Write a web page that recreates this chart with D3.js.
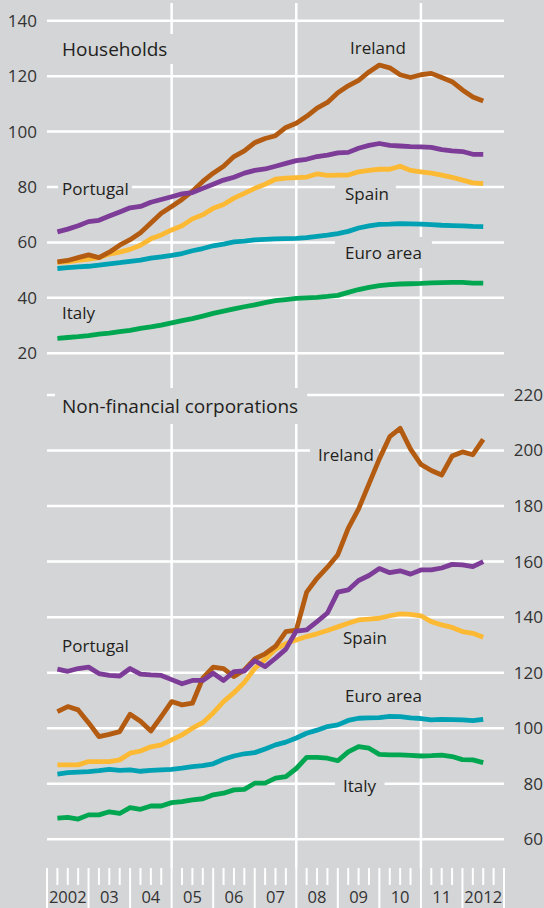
<!DOCTYPE html>
<html>
<head>
<meta charset="utf-8">
<script src="https://cdn.jsdelivr.net/npm/d3@7"></script>
<style>
  html, body { margin: 0; padding: 0; background: #d4d5d7; }
  svg { display: block; }
  text { font-family: "Open Sans", "Noto Sans", sans-serif; fill: #231f20; }
</style>
</head>
<body>
<svg id="chart" width="544" height="908"></svg>
<script>
// ---------- DATA ----------
// quarterly observations 2002Q1 .. 2012Q2 (end of quarter)
const startYear = 2002;
const nQuarters = 42;
const yearLabels = ["2002","03","04","05","06","07","08","09","10","11","2012"];
const householdTicks = [20, 40, 60, 80, 100, 120, 140];
const corporateTicks = [60, 80, 100, 120, 140, 160, 180, 200, 220];
const seriesNames = ["Ireland", "Portugal", "Spain", "Euro area", "Italy"];

// Households (% of GDP)
const hhIreland = [53,53.5,54.5,55.5,54.5,56.5,59,61,63.5,67,70.5,73,75.5,78.5,82,85,87.5,91,93,96,97.5,98.5,101.5,103,105.5,108.5,110.5,114,116.5,118.5,121.5,124,123,120.5,119.5,120.5,121,119.5,118,115,112.5,111];
const hhPortugal = [63.8,64.8,66,67.5,68,69.5,71,72.5,73,74.5,75.5,76.5,77.5,78,79.5,81,82.5,83.5,85,86,86.5,87.5,88.5,89.5,90,91,91.5,92.3,92.5,94,95,95.7,95,94.8,94.6,94.5,94.3,93.5,93,92.8,91.8,91.8];
const hhSpain = [52.8,53,53.5,54,54.5,55.8,56.5,57.5,59,61.3,62.7,64.5,66,68.5,70,72.3,73.7,76,77.7,79.5,81,82.8,83.2,83.4,83.6,84.7,84.2,84.3,84.3,85.5,86,86.4,86.4,87.5,86,85.5,85,84.3,83.5,82.5,81.5,81.2];
const hhEuro = [50.6,50.9,51.2,51.4,51.8,52.3,52.7,53.2,53.6,54.3,54.8,55.3,56,57,57.8,58.8,59.4,60.2,60.5,60.9,61.1,61.3,61.4,61.5,61.7,62.2,62.6,63.2,64,65.2,66,66.5,66.6,66.8,66.7,66.6,66.4,66.2,66.1,66,65.8,65.7];
const hhItaly = [25.4,25.7,26,26.4,26.9,27.3,27.8,28.3,29,29.5,30.2,31,31.8,32.5,33.4,34.4,35.2,36,36.8,37.5,38.3,39,39.4,39.8,40,40.2,40.5,40.9,42,43,43.8,44.4,44.8,45,45.1,45.2,45.4,45.5,45.6,45.6,45.3,45.3];

// Non-financial corporations (% of GDP)
const nfcIreland = [106,107.8,106.6,102,97,97.8,98.8,105,102.5,99,104.2,109.6,108.4,109,118,122,121.5,118.6,121,125,126.8,129.5,134.8,135.3,149,154,158,162.5,172,179,188,197,205,208,200.5,195,192.8,191.2,198,199.5,198.5,204];
const nfcPortugal = [121.3,120.5,121.5,122,119.7,119,118.8,121.5,119.5,119.2,119,117.5,116,117.2,117.2,119.8,117.2,120.4,120.6,124.3,122.2,125.2,128.5,135,135.4,138.4,141.5,149,149.8,153.2,155,157.5,156,156.7,155.5,157,157,157.7,159,158.8,158.2,160];
const nfcSpain = [86.8,86.8,86.8,88,88,88,88.6,91,91.8,93.3,94,95.8,97.6,100,102,105.5,109.6,112.8,116.5,121.5,124.8,128.5,130.5,131.8,133,134,135.2,136.5,137.8,139,139.3,139.6,140.5,141.2,141,140.5,138.4,137.2,136.3,134.8,134.2,132.8];
const nfcEuro = [83.5,84,84.2,84.4,84.7,85.2,84.8,85,84.5,84.8,85,85.2,85.6,86.2,86.5,87.2,88.8,90,90.8,91.2,92.5,94,95,96.5,98.2,99.3,100.6,101.2,102.8,103.6,103.7,103.8,104.3,104.2,103.7,103.5,103,103.2,103.1,103,102.7,103.2];
const nfcItaly = [67.6,67.9,67.3,68.8,68.8,69.9,69.3,71.4,70.8,72,72,73.2,73.6,74.2,74.6,76,76.6,77.8,78,80.2,80.2,82,82.6,85.5,89.5,89.5,89.2,88.3,91.5,93.4,92.8,90.6,90.4,90.4,90.2,90,90.1,90.3,89.8,88.7,88.6,87.6];

// ---------- STYLE ----------
const colors = {
  "Ireland": "#b35b11",
  "Portugal": "#7d3c97",
  "Spain": "#fcb934",
  "Euro area": "#00a1b3",
  "Italy": "#00a650"
};
const BG = "#d4d5d7";

const svg = d3.select("#chart");
svg.append("rect").attr("width", 544).attr("height", 908).attr("fill", BG);

const quarterTimes = d3.range(nQuarters).map(i => startYear + (i + 1) / 4);

const x = d3.scaleLinear().domain([2002, 2013]).range([47, 504]);
const yTop = d3.scaleLinear().domain([20, 140]).range([353.3, 20.7]);
const yBot = d3.scaleLinear().domain([60, 220]).range([839.3, 395]);

const gGrid = svg.append("g");
const gMask = svg.append("g");
const gLines = svg.append("g");
const gText = svg.append("g");

// horizontal gridlines
function hGrid(scale, ticks) {
  gGrid.selectAll(null).data(ticks).enter().append("line")
    .attr("x1", x(2002)).attr("x2", x(2013))
    .attr("y1", d => scale(d)).attr("y2", d => scale(d))
    .attr("stroke", "#fff").attr("stroke-width", 2.5);
}
hGrid(yTop, householdTicks);
hGrid(yBot, corporateTicks);

// vertical gridlines
gGrid.selectAll(null).data([2005, 2008, 2011]).enter().append("line")
  .attr("x1", d => x(d)).attr("x2", d => x(d))
  .attr("y1", 3).attr("y2", 868)
  .attr("stroke", "#fff").attr("stroke-width", 2.5);

// axis ticks (quarters minor, years major)
const quarterTicks = d3.range(0, 44 + 1).map(i => 2002 + i / 4);
gGrid.selectAll(null).data(quarterTicks).enter().append("line")
  .attr("x1", d => x(d)).attr("x2", d => x(d))
  .attr("y1", 868)
  .attr("y2", (d, i) => i % 4 === 0 ? 908 : 885)
  .attr("stroke", "#fff").attr("stroke-width", 2);

// left tick labels (households)
gText.selectAll(null).data(householdTicks).enter().append("text")
  .attr("x", 37).attr("y", d => yTop(d))
  .attr("dy", "0.35em").attr("text-anchor", "end")
  .attr("font-size", 17).style("fill", "#333")
  .text(d => d);

// right tick labels (corporations)
gText.selectAll(null).data(corporateTicks).enter().append("text")
  .attr("x", 543).attr("y", d => yBot(d))
  .attr("dy", "0.35em").attr("text-anchor", "end")
  .attr("font-size", 17).style("fill", "#333")
  .text(d => d);

// year labels
gText.selectAll(null).data(yearLabels).enter().append("text")
  .attr("x", (d, i) => x(2002 + i + 0.5)).attr("y", 903)
  .attr("text-anchor", "middle").attr("font-size", 16.5).style("fill", "#333")
  .text(d => d);

// series lines
function drawSeries(scale, dataByName) {
  const line = d3.line().x((d, i) => x(quarterTimes[i])).y(d => scale(d));
  ["Italy", "Euro area", "Spain", "Ireland", "Portugal"].forEach(name => {
    gLines.append("path")
      .datum(dataByName[name])
      .attr("d", line)
      .attr("fill", "none")
      .attr("stroke", colors[name])
      .attr("stroke-width", 4.8)
      .attr("stroke-linejoin", "round")
      .attr("stroke-linecap", "butt");
  });
}
drawSeries(yTop, {"Ireland": hhIreland, "Portugal": hhPortugal, "Spain": hhSpain, "Euro area": hhEuro, "Italy": hhItaly});
drawSeries(yBot, {"Ireland": nfcIreland, "Portugal": nfcPortugal, "Spain": nfcSpain, "Euro area": nfcEuro, "Italy": nfcItaly});

// labels with background masks
function label(txt, lx, ly, size, padL, padR, padY) {
  const t = gText.append("text").attr("x", lx).attr("y", ly)
    .attr("font-size", size).text(txt);
  const b = t.node().getBBox();
  gMask.append("rect")
    .attr("x", b.x - padL).attr("y", b.y - padY)
    .attr("width", b.width + padL + padR).attr("height", b.height + 2 * padY)
    .attr("fill", BG);
}
label("Households", 62, 56, 19, 6, 6, 2);
label("Ireland", 350, 54, 17, 8, 8, 2);
label("Portugal", 62, 195, 17, 4, 3, 2);
label("Spain", 345, 200, 17, 10, 7, 2);
label("Euro area", 345, 259, 17, 10, 10, 4);
label("Italy", 62, 319, 17, 4, 9, 2);

label("Non-financial corporations", 62, 413, 19, 7, 9, 5);
label("Ireland", 318, 461, 17, 8, 5, 2);
label("Portugal", 62, 652, 17, 4, 4, 2);
label("Spain", 343, 644, 17, 8, 8, 2);
label("Euro area", 345, 702, 17, 10, 10, 4);
label("Italy", 343, 792, 17, 8, 8, 2);
</script>
</body>
</html>
